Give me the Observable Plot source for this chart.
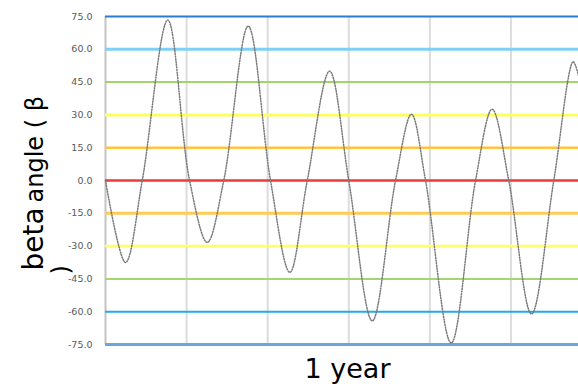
<!DOCTYPE html>
<html>
<head>
<meta charset="utf-8">
<script src="https://cdn.jsdelivr.net/npm/d3@7"></script>
<script src="https://cdn.jsdelivr.net/npm/@observablehq/plot@0.6"></script>
<style>
  html, body { margin: 0; padding: 0; background: #fff; }
  #chart svg { display: block; }
</style>
</head>
<body>
<div id="chart"></div>
<script>
// Day of year (approx.) of key points of the beta-angle curve
const days  = [0, 14.8, 27.2, 46.1, 62.2, 75.3, 87.5, 105.6, 122.1, 136.4, 149.3, 165.8, 180, 197.4, 214.6, 226.4, 236.8, 255.8, 273.8, 286.1, 298.4, 315.2, 331.7, 346.1, 350];
// Beta angle (degrees) at those days
const betas = [0, -37.5, 0, 73.4, 0, -28.3, 0, 70.6, 0, -42, 0, 50, 0, -64.2, 0, 30.3, 0, -74.3, 0, 32.6, 0, -61, 0, 54.3, 48];

// Horizontal reference levels and y tick values
const levels = [75, 60, 45, 30, 15, 0, -15, -30, -45, -60, -75];
const yTicks = [75, 60, 45, 30, 15, 0, -15, -30, -45, -60, -75];
// Vertical grid positions (days)
const gridDays = [60, 120, 180, 240, 300];

const yLabelMain = "beta";
const yLabelRest = "angle ( β";
const yLabelEnd = ")";
const xLabel = "1 year";

// styles
const levelColor = {75: "#2b7bd0", 60: "#7fd0f5", 45: "#a3d46a", 30: "#ffff5c", 15: "#ffc43d",
  0: "#ec3a3a", "-15": "#ffcb55", "-30": "#ffff66", "-45": "#a6d672", "-60": "#22aaee", "-75": "#6aa6dc"};
const levelWidth = {75: 2, 60: 3, 45: 2, 30: 3, 15: 2.5, 0: 2.5, "-15": 3, "-30": 2.5, "-45": 2, "-60": 2, "-75": 3};

const data = days.map((d, i) => ({day: d, beta: betas[i]}));

const chart = Plot.plot({
  width: 578,
  height: 384,
  marginLeft: 105,
  marginRight: 0,
  marginTop: 16,
  marginBottom: 40,
  style: {fontFamily: "DejaVu Sans", background: "#fff"},
  x: {domain: [0, 350], axis: null},
  y: {domain: [-75, 75], axis: null},
  marks: [
    Plot.ruleX(gridDays, {x: d => d, stroke: "#dcdcdc", strokeWidth: 2}),
    Plot.ruleX([0], {x: d => d, stroke: "#c4c4c4", strokeWidth: 2}),
    Plot.ruleY(levels, {y: d => d, stroke: d => levelColor[d], strokeWidth: d => levelWidth[d]}),
    Plot.axisY(yTicks, {tickSize: 0, tickPadding: 13, tickFormat: d => d.toFixed(1), fontSize: 9.5, fill: "#595959", label: null}),
    Plot.line(data, {x: "day", y: "beta", curve: "catmull-rom", stroke: "#7a7a7a", strokeWidth: 1.5, strokeDasharray: "1.1,1.6"}),
    Plot.text([yLabelMain], {text: d => d, frameAnchor: "top-left", rotate: -90, textAnchor: "start", lineAnchor: "bottom", fontSize: 28, fill: "#000", dx: -63, dy: 254}),
    Plot.text([yLabelRest], {text: d => d, frameAnchor: "top-left", rotate: -90, textAnchor: "start", lineAnchor: "bottom", fontSize: 24, fill: "#000", dx: -63, dy: 186}),
    Plot.text([yLabelEnd], {text: d => d, frameAnchor: "top-left", rotate: -90, textAnchor: "start", lineAnchor: "bottom", fontSize: 24, fill: "#000", dx: -37, dy: 258}),
    Plot.text([xLabel], {text: d => d, frameAnchor: "bottom", lineAnchor: "bottom", fontSize: 27, fill: "#000", dx: 5.5, dy: 33})
  ]
});
document.getElementById("chart").appendChild(chart);
</script>
</body>
</html>
